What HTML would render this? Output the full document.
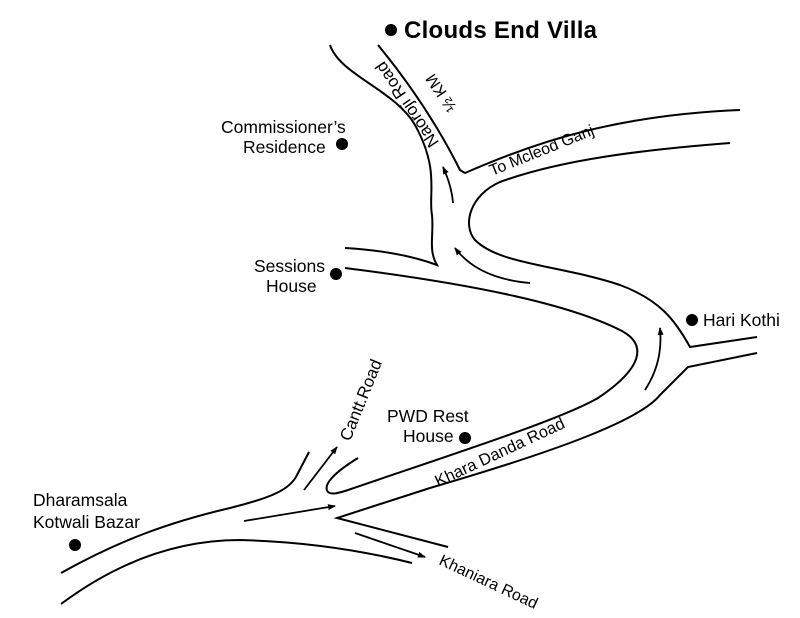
<!DOCTYPE html>
<html><head><meta charset="utf-8"><style>
html,body{margin:0;padding:0;background:#fff;width:800px;height:618px;overflow:hidden}
svg{display:block}
text{font-family:"Liberation Sans",sans-serif;fill:#000}
</style></head><body>
<svg width="800" height="618" viewBox="0 0 800 618" xmlns="http://www.w3.org/2000/svg">
<defs><marker id="a" markerWidth="8" markerHeight="8" refX="7" refY="4" orient="auto" markerUnits="userSpaceOnUse"><path d="M0,1 L8,4 L0,7 Z" fill="#000"/></marker></defs>
<g fill="none" stroke="#000" stroke-width="2">
<path d="M61,573 C120,540 170,522 230,508 C270,498 290,490 297,475 L309,452"/>
<path d="M61,604 C120,560 180,540 240,540 C320,542 380,555 412,563"/>
<path d="M358,458 C335,472 322,485 328,492 C332,495 338,493 345,491 C450,455 560,420 598,398 C640,370 650,345 620,330 C570,305 480,285 345,268"/>
<path d="M448,547 L337,518 L430,488 C560,450 640,420 660,395 L688,367 L757,353"/>
<path d="M730,143 C640,150 560,160 500,182 C470,195 462,225 475,240 C500,265 560,265 620,285 C660,300 675,320 690,347 L757,337"/>
<path d="M740,110 C620,115 540,140 465,173 L460,170 C440,130 415,90 378,45"/>
<path d="M330,45 C340,75 395,90 415,125 C440,170 428,195 432,215 C434,235 428,250 437,265 C410,255 380,250 345,248"/>
</g>
<g fill="none" stroke="#000" stroke-width="1.8" marker-end="url(#a)">
<path d="M304,490 L337,447"/>
<path d="M244,521 L335,506"/>
<path d="M355,533 L425,557"/>
<path d="M453,203 C452,190 448,178 443,167"/>
<path d="M530,283 C495,280 470,268 455,248"/>
<path d="M645,390 C658,370 662,350 660,328"/>
</g>
<g fill="#000">
<circle cx="391" cy="30" r="6"/><circle cx="342" cy="144" r="6"/><circle cx="336" cy="274" r="6"/>
<circle cx="692" cy="320" r="6"/><circle cx="465" cy="438" r="6"/><circle cx="75" cy="545" r="6"/>
</g>
<text x="404" y="38" font-size="24" font-weight="bold" style="font-family:'Liberation Sans Narrow','Liberation Sans',sans-serif" textLength="193">Clouds End Villa</text>
<g font-size="17.5">
<text x="221" y="133">Commissioner’s</text>
<text x="243" y="153">Residence</text>
<text x="254" y="272">Sessions</text>
<text x="266" y="292">House</text>
<text x="703" y="326">Hari Kothi</text>
<text x="387" y="422">PWD Rest</text>
<text x="403" y="442">House</text>
<text x="33" y="506">Dharamsala</text>
<text x="33" y="528">Kotwali Bazar</text>
</g>
<text font-size="17" transform="translate(350,442) rotate(-68)">Cantt.Road</text>
<text font-size="16.5" transform="translate(438,487) rotate(-25)">Khara Danda Road</text>
<text font-size="16" transform="translate(438,564) rotate(25)">Khaniara Road</text>
<text font-size="16" transform="translate(492,176) rotate(-22)">To Mcleod Ganj</text>
<text font-size="17" transform="translate(379,53) rotate(56) scale(-1,-1) translate(-108,0)">Naoroji Road</text>
<text font-size="16" transform="translate(432,70) rotate(56) scale(-1,-1) translate(-45,0)">½ KM</text>
</svg>
</body></html>
